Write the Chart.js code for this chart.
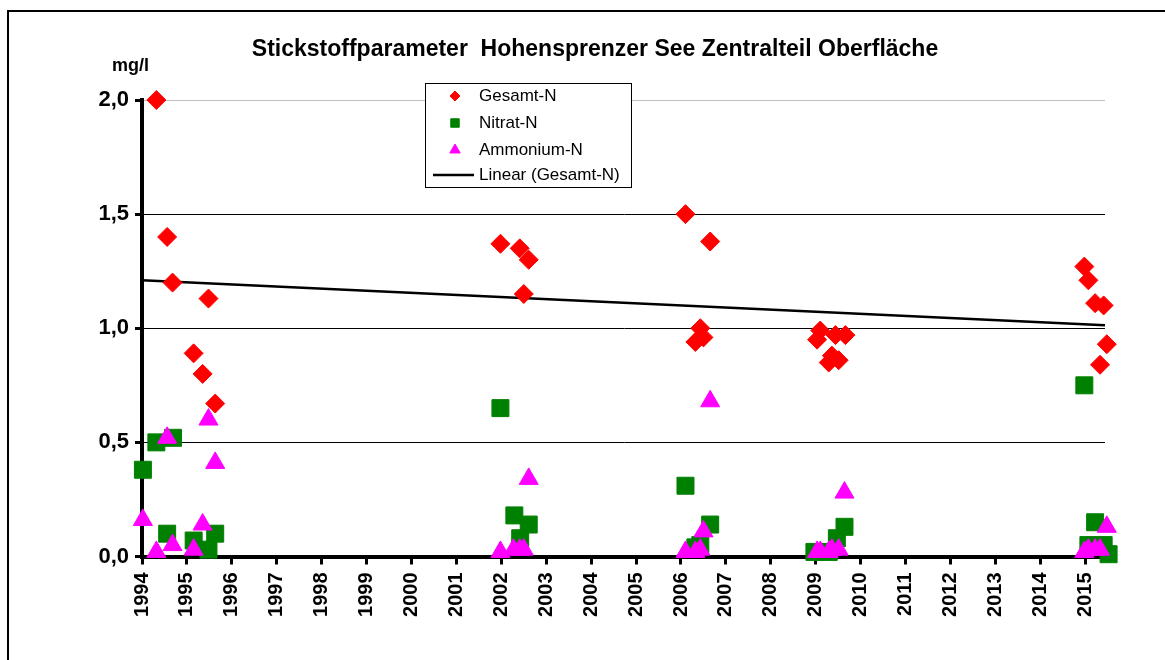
<!DOCTYPE html>
<html>
<head>
<meta charset="utf-8">
<script src="https://cdn.jsdelivr.net/npm/chart.js@4.4.0/dist/chart.umd.min.js"></script>
<style>
  html, body { margin: 0; padding: 0; background: #fff; }
  #wrap { position: relative; width: 1165px; height: 660px; }
</style>
</head>
<body>
<div id="wrap"><canvas id="chart" width="1165" height="660"></canvas></div>
<script>
const chartTitle = 'Stickstoffparameter  Hohensprenzer See Zentralteil Oberfläche';
const unitLabel = 'mg/l';
const yearTicks = [1994, 1995, 1996, 1997, 1998, 1999, 2000, 2001, 2002, 2003, 2004,
  2005, 2006, 2007, 2008, 2009, 2010, 2011, 2012, 2013, 2014, 2015];
const legendLabels = ['Gesamt-N', 'Nitrat-N', 'Ammonium-N', 'Linear (Gesamt-N)'];

const gesamtDates = [1994.32, 1994.56, 1994.68, 1995.15, 1995.35, 1995.48, 1995.63,
  2001.98, 2002.41, 2002.50, 2002.61,
  2006.10, 2006.32, 2006.43, 2006.50, 2006.65,
  2009.03, 2009.10, 2009.29, 2009.36, 2009.44, 2009.51, 2009.66,
  2014.98, 2015.07, 2015.22, 2015.33, 2015.41, 2015.48];
const gesamtValues = [2.00, 1.40, 1.20, 0.89, 0.80, 1.13, 0.67,
  1.37, 1.35, 1.15, 1.30,
  1.50, 0.94, 1.00, 0.96, 1.38,
  0.95, 0.99, 0.85, 0.88, 0.97, 0.86, 0.97,
  1.27, 1.21, 1.11, 0.84, 1.10, 0.93];

const nitratDates = [1994.02, 1994.32, 1994.56, 1994.69, 1995.15, 1995.48, 1995.63,
  2001.98, 2002.29, 2002.42, 2002.61,
  2006.10, 2006.32, 2006.43, 2006.65,
  2008.97, 2009.29, 2009.47, 2009.64,
  2014.98, 2015.07, 2015.22, 2015.41, 2015.52];
const nitratValues = [0.38, 0.50, 0.10, 0.52, 0.07, 0.03, 0.10,
  0.65, 0.18, 0.08, 0.14,
  0.31, 0.04, 0.05, 0.14,
  0.02, 0.02, 0.08, 0.13,
  0.75, 0.05, 0.15, 0.05, 0.01];

const ammoniumDates = [1994.02, 1994.32, 1994.56, 1994.68, 1995.15, 1995.35, 1995.48, 1995.63,
  2001.98, 2002.27, 2002.41, 2002.50, 2002.61,
  2006.10, 2006.32, 2006.43, 2006.50, 2006.65,
  2009.03, 2009.10, 2009.29, 2009.36, 2009.51, 2009.64,
  2014.98, 2015.07, 2015.22, 2015.33, 2015.48];
const ammoniumValues = [0.16, 0.02, 0.52, 0.05, 0.03, 0.14, 0.60, 0.41,
  0.02, 0.03, 0.03, 0.03, 0.34,
  0.02, 0.02, 0.03, 0.11, 0.68,
  0.02, 0.02, 0.02, 0.03, 0.03, 0.28,
  0.02, 0.03, 0.03, 0.03, 0.13];

// Excel trend line (Linear Gesamt-N), end points
const trendDates = [1994, 2015.44];
const trendValues = [1.21, 1.013];

const FONT = '"Liberation Sans", Arial, sans-serif';
const RED = '#ff0000', GREEN = '#008000', MAGENTA = '#ff00ff';

const toPoints = (xs, ys) => xs.map((x, i) => ({ x: x, y: ys[i] }));

// title, unit, frame and the boxed legend
const decoPlugin = {
  id: 'deco',
  afterDraw(chart) {
    const ctx = chart.ctx;
    ctx.save();
    ctx.strokeStyle = '#000';
    ctx.lineWidth = 2;
    ctx.strokeRect(8, 11, 1200, 700);

    ctx.fillStyle = '#000';
    ctx.textBaseline = 'alphabetic';
    ctx.textAlign = 'center';
    ctx.font = 'bold 23px ' + FONT;
    ctx.fillText(chartTitle, 595, 56);
    ctx.textAlign = 'left';
    ctx.font = 'bold 18px ' + FONT;
    ctx.fillText(unitLabel, 112, 71);

    // legend box
    ctx.fillStyle = '#fff';
    ctx.fillRect(425, 83, 206, 104);
    ctx.lineWidth = 1;
    ctx.strokeRect(425.5, 83.5, 206, 104);
    const rows = [96, 123, 150, 175];
    const styles = [['rectRot', RED, 5], ['rect', GREEN, 6], ['triangle', MAGENTA, 6]];
    styles.forEach((s, i) => {
      ctx.fillStyle = s[1];
      ctx.strokeStyle = s[1];
      ctx.lineWidth = 1;
      Chart.helpers.drawPoint(ctx, { pointStyle: s[0], radius: s[2], rotation: 0, borderWidth: 1 }, 455, rows[i]);
    });
    ctx.strokeStyle = '#000';
    ctx.lineWidth = 2.5;
    ctx.beginPath();
    ctx.moveTo(433, rows[3]);
    ctx.lineTo(474, rows[3]);
    ctx.stroke();
    ctx.fillStyle = '#000';
    ctx.font = '17px ' + FONT;
    ctx.textBaseline = 'middle';
    legendLabels.forEach((t, i) => ctx.fillText(t, 479, rows[i]));
    ctx.restore();
  }
};

new Chart(document.getElementById('chart'), {
  type: 'scatter',
  data: {
    datasets: [
      {
        label: legendLabels[2],
        data: toPoints(ammoniumDates, ammoniumValues),
        pointStyle: 'triangle',
        pointRadius: 11,
        backgroundColor: MAGENTA,
        borderColor: MAGENTA,
        borderWidth: 1,
        clip: false,
        order: 1
      },
      {
        label: legendLabels[1],
        data: toPoints(nitratDates, nitratValues),
        pointStyle: 'rect',
        pointRadius: 12,
        backgroundColor: GREEN,
        borderColor: GREEN,
        borderWidth: 1,
        clip: false,
        order: 2
      },
      {
        label: legendLabels[0],
        data: toPoints(gesamtDates, gesamtValues),
        pointStyle: 'rectRot',
        pointRadius: 9.5,
        backgroundColor: RED,
        borderColor: RED,
        borderWidth: 1,
        clip: false,
        order: 3
      },
      {
        label: legendLabels[3],
        type: 'line',
        data: toPoints(trendDates, trendValues),
        borderColor: '#000',
        borderWidth: 2.5,
        pointRadius: 0,
        fill: false,
        clip: false,
        order: 4
      }
    ]
  },
  options: {
    responsive: false,
    animation: false,
    layout: { padding: { top: 100, right: 60, left: 0, bottom: 0 } },
    plugins: {
      legend: { display: false },
      title: { display: false },
      tooltip: { enabled: false }
    },
    scales: {
      x: {
        type: 'linear',
        min: 1994,
        max: 2015.44,
        afterBuildTicks: (scale) => { scale.ticks = yearTicks.map(v => ({ value: v })); },
        afterFit: (scale) => { scale.height = 103.5; },
        border: { display: true, color: '#000', width: 4 },
        grid: { display: true, drawOnChartArea: false, drawTicks: true, tickLength: 8, tickWidth: 3, tickColor: '#000' },
        ticks: {
          autoSkip: false,
          maxRotation: 90,
          minRotation: 90,
          padding: 8,
          color: '#000',
          font: { family: FONT, size: 20, weight: 'bold' },
          callback: (v) => String(v)
        }
      },
      y: {
        min: 0,
        max: 2,
        afterFit: (scale) => { scale.width = 142; },
        border: { display: true, color: '#000', width: 4 },
        grid: {
          color: (c) => (c.tick && c.tick.value === 2 ? '#c0c0c0' : '#000'),
          lineWidth: 1,
          drawTicks: true,
          tickLength: 7,
          tickWidth: 3,
          tickColor: '#000'
        },
        ticks: {
          stepSize: 0.5,
          padding: 6,
          color: '#000',
          font: { family: FONT, size: 22, weight: 'bold' },
          callback: (v) => v.toFixed(1).replace('.', ',')
        }
      }
    }
  },
  plugins: [decoPlugin]
});
</script>
</body>
</html>
